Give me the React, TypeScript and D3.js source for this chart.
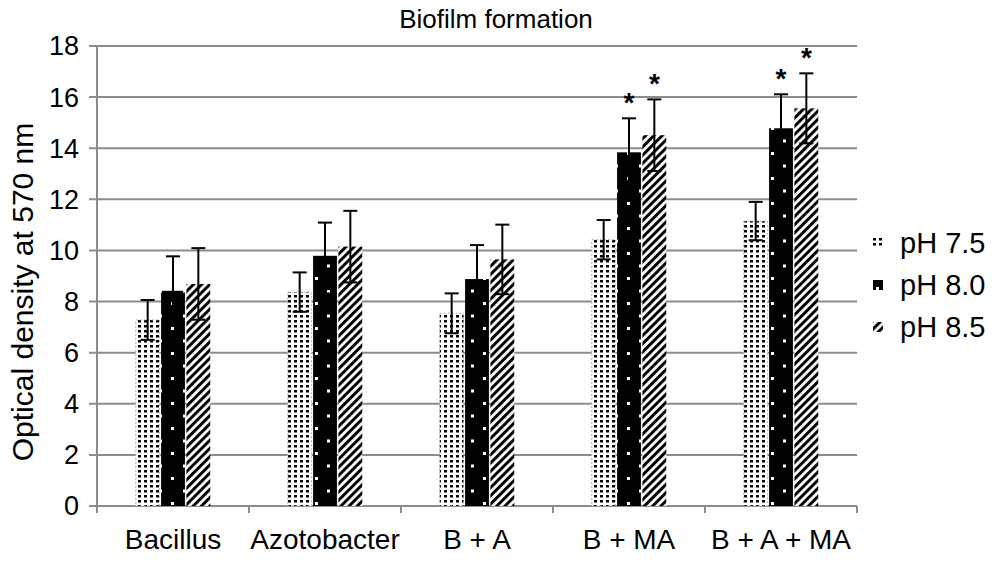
import * as d3 from 'd3'

const categories = ['Bacillus', 'Azotobacter', 'B + A', 'B + MA', 'B + A + MA']
const seriesNames = ['pH 7.5', 'pH 8.0', 'pH 8.5']
const ph75 = [7.28, 8.37, 7.54, 10.42, 11.15]
const ph80 = [8.42, 9.79, 8.88, 13.84, 14.78]
const ph85 = [8.69, 10.15, 9.65, 14.51, 15.56]
const err75 = [0.78, 0.77, 0.78, 0.77, 0.75]
const err80 = [1.35, 1.3, 1.33, 1.33, 1.33]
const err85 = [1.4, 1.4, 1.36, 1.4, 1.37]
const star80 = [false, false, false, true, true]
const star85 = [false, false, false, true, true]
const yTicks = [0, 2, 4, 6, 8, 10, 12, 14, 16, 18]

const W = 992
const H = 563
const margin = { top: 46, right: 135, bottom: 57, left: 97 }
const font = '"Liberation Sans", Arial, sans-serif'
const grid = '#8c8c8c'

const series = [
  { name: seriesNames[0], values: ph75, err: err75, stars: [false, false, false, false, false], fill: 'url(#p75)' },
  { name: seriesNames[1], values: ph80, err: err80, stars: star80, fill: 'url(#p80)' },
  { name: seriesNames[2], values: ph85, err: err85, stars: star85, fill: 'url(#p85)' },
]

export default function App() {
  const x = d3.scaleBand<string>()
    .domain(categories)
    .range([margin.left, W - margin.right])
  const y = d3.scaleLinear()
    .domain([0, 18])
    .range([H - margin.bottom, margin.top])
  const bw = x.bandwidth()
  // bars fill the middle half of each category (gap width 100%)
  const inner = d3.scaleBand<number>()
    .domain(d3.range(series.length))
    .range([bw / 4, bw * 3 / 4])
  const barW = inner.bandwidth() - 1.5

  return (
    <svg width={W} height={H} style={{ position: 'absolute', left: 0, top: 0, background: '#fff' }} fontFamily={font}>
      <defs>
        <pattern id="p75" patternUnits="userSpaceOnUse" width={6} height={5}>
          <rect width={6} height={5} fill="#fff" />
          <rect width={3} height={2.5} fill="#000" />
        </pattern>
        <pattern id="p80" patternUnits="userSpaceOnUse" width={24} height={25}>
          <rect width={24} height={25} fill="#000" />
          <rect x={3} y={2} width={3} height={3} fill="#fff" />
          <rect x={15} y={14.5} width={3} height={3} fill="#fff" />
        </pattern>
        <pattern id="p85" patternUnits="userSpaceOnUse" width={5.8} height={8} patternTransform="rotate(45)">
          <rect width={5.8} height={8} fill="#fff" />
          <rect width={3} height={8} fill="#000" />
        </pattern>
      </defs>

      <text x={496} y={28} textAnchor="middle" fontSize={26}>Biofilm formation</text>

      {yTicks.map(t => (
        <g key={t}>
          <line x1={margin.left - 8} x2={W - margin.right} y1={y(t)} y2={y(t)} stroke={grid} strokeWidth={2} />
          <text x={79} y={y(t)} dy="0.35em" textAnchor="end" fontSize={27}>{t}</text>
        </g>
      ))}
      <line x1={margin.left} x2={margin.left} y1={y(18)} y2={y(0) + 7} stroke={grid} strokeWidth={2} />
      {categories.map(c => (
        <line key={c} x1={x(c)! + bw} x2={x(c)! + bw} y1={y(0)} y2={y(0) + 7} stroke={grid} strokeWidth={2} />
      ))}

      {series.map((s, si) => (
        <g key={s.name}>
          {categories.map((c, i) => {
            const bx = x(c)! + inner(si)! + 0.75
            const v = s.values[i]
            const cx = bx + barW / 2
            const top = y(v + s.err[i])
            const bot = y(v - s.err[i])
            return (
              <g key={c}>
                <rect x={bx} y={y(v)} width={barW} height={y(0) - y(v)} fill={s.fill}
                  stroke={si === 0 ? '#b0b0b0' : 'none'} strokeDasharray={si === 0 ? '2,2' : undefined} strokeWidth={1} />
                <line x1={cx} x2={cx} y1={top} y2={bot} stroke="#000" strokeWidth={2} />
                <line x1={cx - 7} x2={cx + 7} y1={top} y2={top} stroke="#000" strokeWidth={2} />
                <line x1={cx - 7} x2={cx + 7} y1={bot} y2={bot} stroke="#000" strokeWidth={2} />
                {s.stars[i] && (
                  <text x={cx} y={top - 6} textAnchor="middle" fontSize={28} fontWeight="bold">*</text>
                )}
              </g>
            )
          })}
        </g>
      ))}

      {categories.map(c => (
        <text key={c} x={x(c)! + bw / 2} y={549} textAnchor="middle" fontSize={28}>{c}</text>
      ))}

      <text transform="translate(33, 292) rotate(-90)" textAnchor="middle" fontSize={30}>
        Optical density at 570 nm
      </text>

      {series.map((s, si) => (
        <g key={s.name} transform={`translate(873, ${243 + si * 42})`}>
          <rect x={0} y={-5} width={10} height={10} fill={s.fill} />
          <text x={27} y={0} dy="0.35em" fontSize={29}>{s.name}</text>
        </g>
      ))}
    </svg>
  )
}
